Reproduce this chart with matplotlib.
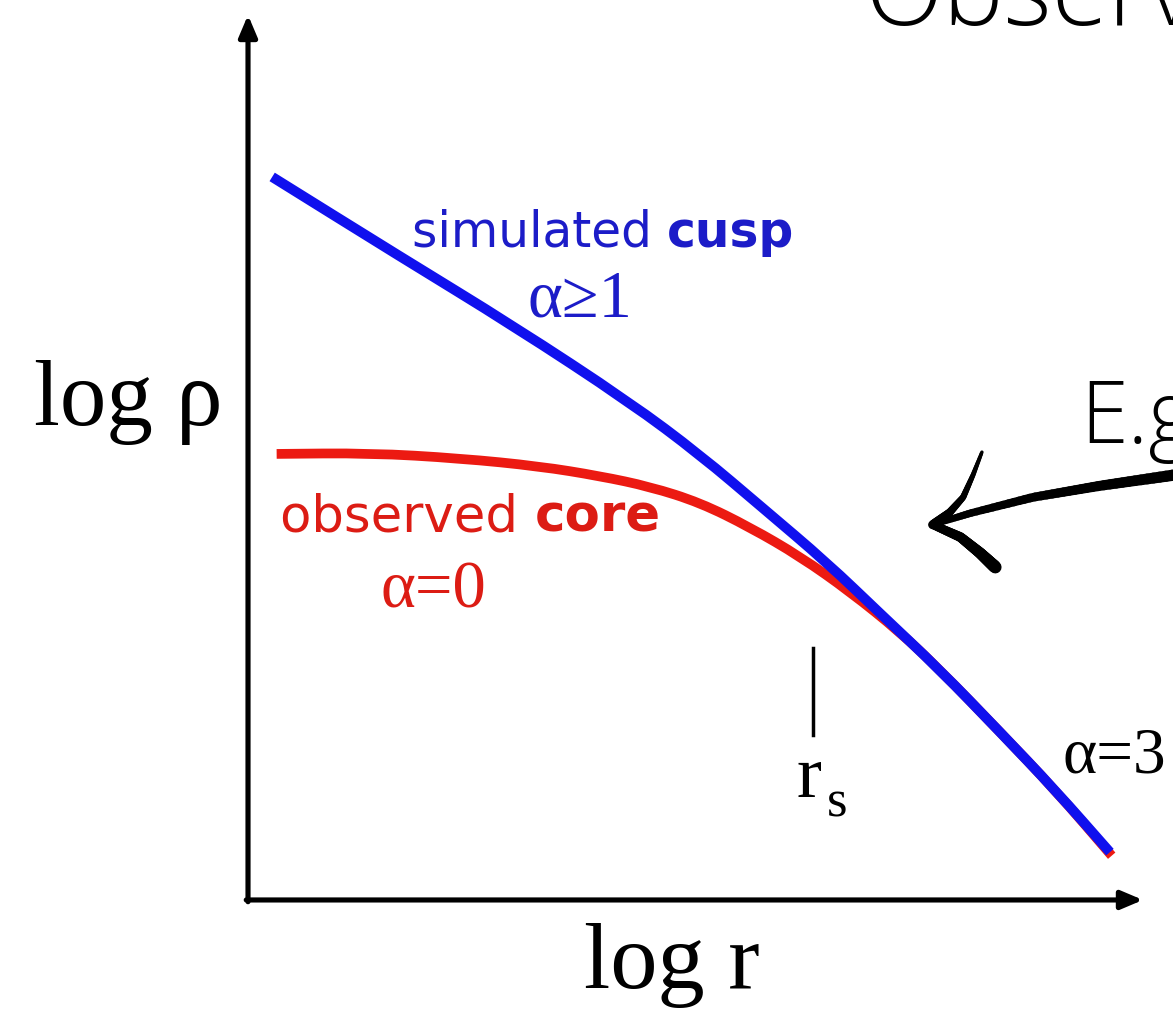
import matplotlib
matplotlib.use('Agg')
import matplotlib.pyplot as plt
import numpy as np
from matplotlib.collections import LineCollection
from matplotlib.path import Path
from matplotlib.patches import PathPatch

# Perfiles esquemáticos en el plano log r - log rho (unidades arbitrarias, ejes 0..10)
log_r_cusp = [0.27, 1.70, 2.96, 4.27, 5.05, 5.75, 6.47, 7.06, 7.73, 8.40, 9.02, 9.63]
log_rho_cusp = [8.17, 7.27, 6.49, 5.62, 5.03, 4.43, 3.81, 3.24, 2.60, 1.90, 1.24, 0.54]

log_r_core = [0.32, 1.36, 2.37, 3.26, 3.93, 4.49, 5.05, 5.61, 6.17, 6.73, 7.28, 7.73, 8.40, 9.02, 9.65]
log_rho_core = [5.04, 5.05, 4.99, 4.90, 4.79, 4.67, 4.49, 4.21, 3.88, 3.48, 3.03, 2.60, 1.90, 1.24, 0.50]

log_r_s = 6.31
rs_tick = [1.86, 2.85]

etiqueta_cusp = ['simulated ', 'cusp']
etiqueta_core = ['observed ', 'core']
pendiente_cusp = 'α≥1'
pendiente_core = 'α=0'
pendiente_ext = 'α=3'
titulo = 'Observations'
ejemplo = 'E.g.'

AZUL = '#1010ee'
AZUL_TXT = '#1c1cc8'
ROJO = '#ec1a12'
ROJO_TXT = '#dc1c14'
SERIF = ['Liberation Serif', 'DejaVu Serif']
SANS = ['DejaVu Sans']

fig = plt.figure(figsize=(11.73, 10.09), dpi=100)
ax = fig.add_axes([0, 0, 1, 1])
ax.set_xlim(-2.771, 10.335)
ax.set_ylim(-1.232, 10.169)
ax.axis('off')


def curva_suave(x, y, **kw):
    """Dibuja la curva con tramos cuadráticos entre los puntos medios."""
    p = np.column_stack([x, y])
    verts = [p[0], (p[0] + p[1]) / 2]
    codes = [Path.MOVETO, Path.LINETO]
    for i in range(1, len(p) - 1):
        verts += [p[i], (p[i] + p[i + 1]) / 2]
        codes += [Path.CURVE3, Path.CURVE3]
    verts.append(p[-1])
    codes.append(Path.LINETO)
    ax.add_patch(PathPatch(Path(verts, codes), fill=False, **kw))


# ejes con flecha
flecha = dict(arrowstyle='-|>,head_length=1.3,head_width=0.55', lw=3.7, color='k',
              shrinkA=0, shrinkB=0, mutation_scale=10)
ax.annotate('', xy=(0, 10.0), xytext=(0, -0.02), arrowprops=flecha)
ax.annotate('', xy=(10.0, 0), xytext=(-0.02, 0), arrowprops=flecha)

ax.text(-0.29, 5.37, 'log ρ', ha='right', va='baseline', fontsize=67, family=SERIF)
ax.text(4.74, -0.99, 'log r', ha='center', va='baseline', fontsize=68, family=SERIF)

# perfiles: core debajo, cusp encima
curva_suave(log_r_core, log_rho_core, edgecolor=ROJO, lw=7, capstyle='butt', joinstyle='round')
curva_suave(log_r_cusp, log_rho_cusp, edgecolor=AZUL, lw=7.2, capstyle='butt', joinstyle='round')

# etiquetas de las curvas
t1 = ax.text(1.83, 7.38, etiqueta_cusp[0], ha='left', va='baseline', fontsize=35,
             color=AZUL_TXT, family=SANS)
ax.annotate(etiqueta_cusp[1], xy=(1, 0), xycoords=t1, ha='left', va='bottom', fontsize=35,
            color=AZUL_TXT, family=SANS, fontweight='bold')
ax.text(3.12, 6.59, pendiente_cusp, ha='left', va='baseline', fontsize=48, color=AZUL_TXT, family=SERIF)

t2 = ax.text(0.36, 4.16, etiqueta_core[0], ha='left', va='baseline', fontsize=37,
             color=ROJO_TXT, family=SANS)
ax.annotate(etiqueta_core[1], xy=(1, 0), xycoords=t2, ha='left', va='bottom', fontsize=37,
            color=ROJO_TXT, family=SANS, fontweight='bold')
ax.text(1.48, 3.30, pendiente_core, ha='left', va='baseline', fontsize=48, color=ROJO_TXT, family=SERIF)

ax.text(9.10, 1.44, pendiente_ext, ha='left', va='baseline', fontsize=47, color='k', family=SERIF)

# radio de escala
ax.plot([log_r_s, log_r_s], rs_tick, color='k', lw=2.5)
ax.text(6.13, 1.16, 'r', ha='left', va='baseline', fontsize=54, family=SERIF)
ax.text(6.47, 0.94, 's', ha='left', va='baseline', fontsize=38, family=SERIF)

# texto de la diapositiva
ax.text(6.89, 9.89, titulo, ha='left', va='baseline', fontsize=74, family=['Open Sans'],
        fontweight='light', clip_on=False)
ax.text(9.30, 5.16, ejemplo, ha='left', va='baseline', fontsize=62, family=['Open Sans'],
        fontweight='light')


def trazo(xs, ys, w0, w1, n=60):
    """Trazo a mano alzada: línea con grosor variable."""
    idx = np.arange(len(xs))
    s = np.linspace(0, len(xs) - 1, n)
    px = np.interp(s, idx, xs)
    py = np.interp(s, idx, ys)
    segs = np.stack([np.column_stack([px[:-1], py[:-1]]),
                     np.column_stack([px[1:], py[1:]])], axis=1)
    lc = LineCollection(segs, linewidths=np.linspace(w0, w1, len(segs)),
                        colors='k', capstyle='round')
    ax.add_collection(lc)


# flecha dibujada a mano
trazo([7.65, 8.07, 8.77, 9.52, 10.34, 10.50], [4.24, 4.37, 4.55, 4.68, 4.80, 4.82], 4.5, 9)
trazo([7.65, 7.84, 7.99, 8.10, 8.20], [4.24, 4.38, 4.55, 4.80, 5.06], 6.5, 2.5)
trazo([7.65, 7.96, 8.18, 8.35], [4.24, 4.10, 3.92, 3.76], 6, 9)

fig.savefig('out.png', dpi=100)
